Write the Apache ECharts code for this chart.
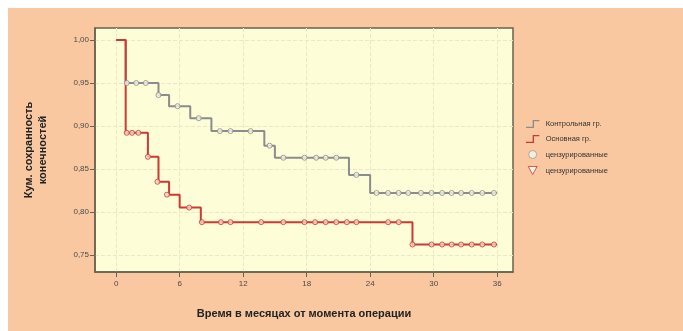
<!DOCTYPE html>
<html><head><meta charset="utf-8">
<script src="https://cdn.jsdelivr.net/npm/echarts@6/dist/echarts.min.js"></script>
<style>html,body{margin:0;padding:0;background:#fff}#c{width:683px;height:331px}</style>
</head><body><div id="c"></div>
<script>
// Kaplan–Meier steps: [time (months), cumulative survival]
const controlTimes = [0, 0.9, 4, 5, 7, 9, 14, 15, 22, 24, 36];
const controlSurv  = [1.0, 0.95, 0.936, 0.923, 0.909, 0.894, 0.877, 0.863, 0.843, 0.822, 0.822];
const mainTimes = [0, 0.9, 3, 4, 5, 6, 8, 28, 36];
const mainSurv  = [1.0, 0.892, 0.864, 0.835, 0.820, 0.805, 0.788, 0.762, 0.762];
// Censored observations
const controlCensTimes = [1.0,1.9,2.8,4.0,5.8,7.8,9.8,10.8,12.7,14.5,15.8,17.8,18.9,19.8,20.8,22.7,24.6,25.7,26.7,27.6,28.8,29.8,30.8,31.7,32.6,33.6,34.6,35.7];
const controlCensSurv  = [0.95,0.95,0.95,0.936,0.923,0.909,0.894,0.894,0.894,0.877,0.863,0.863,0.863,0.863,0.863,0.843,0.822,0.822,0.822,0.822,0.822,0.822,0.822,0.822,0.822,0.822,0.822,0.822];
const mainCensTimes = [1.0,1.5,2.1,3.0,3.9,4.8,6.9,8.1,9.9,10.8,13.7,15.8,17.8,18.8,19.8,20.8,21.8,22.7,25.7,26.7,28.0,29.8,30.8,31.7,32.6,33.6,34.6,35.7];
const mainCensSurv  = [0.892,0.892,0.892,0.864,0.835,0.820,0.805,0.788,0.788,0.788,0.788,0.788,0.788,0.788,0.788,0.788,0.788,0.788,0.788,0.788,0.762,0.762,0.762,0.762,0.762,0.762,0.762,0.762];
const xTicks = [0, 6, 12, 18, 24, 30, 36];
const yTicks = [0.75, 0.80, 0.85, 0.90, 0.95, 1.00];
const seriesNames = ['Контрольная гр.', 'Основная гр.', 'цензурированные', 'цензурированные '];
const xTitle = 'Время в месяцах от момента операции';
const yTitle = 'Кум. сохранность\nконечностей';

const zip = (a, b) => a.map((v, i) => [v, b[i]]);
const GRAY = '#8c8c8c', RED = '#cc3a33', AX = '#6a6250', TXT = '#4a4a4a';
const stepIcon = 'path://M0,10 L10,10 L10,0 L20,0 L20,2 L12,2 L12,12 L0,12 Z';

const chart = echarts.init(document.getElementById('c'), null, {renderer: 'canvas'});
chart.setOption({
  backgroundColor: '#fff',
  animation: false,
  graphic: [{type: 'rect', z: -10, shape: {x: 8, y: 8, width: 675, height: 323}, style: {fill: '#f9c8a0'}}],
  grid: {left: 95, top: 28, right: 170, bottom: 59, show: true, backgroundColor: '#fdfdd8', borderColor: AX, borderWidth: 1.5},
  xAxis: {
    type: 'value', min: -2, max: 37.5,
    name: xTitle, nameLocation: 'middle', nameGap: 36,
    nameTextStyle: {fontFamily: 'Liberation Sans', fontWeight: 'bold', fontSize: 11, color: '#222'},
    axisLine: {show: true, onZero: false, lineStyle: {color: AX, width: 1.5}},
    axisTick: {show: true, inside: false, length: 5, lineStyle: {color: AX}, customValues: xTicks},
    axisLabel: {color: TXT, fontSize: 8, fontFamily: 'Liberation Sans', margin: 8, customValues: xTicks},
    splitLine: {show: true, lineStyle: {color: '#ebe7c8', type: 'dashed', width: 1}}
  },
  yAxis: {
    type: 'value', min: 0.73, max: 1.014,
    name: yTitle, nameLocation: 'middle', nameGap: 45, nameRotate: 90,
    nameTextStyle: {fontFamily: 'Liberation Sans', fontWeight: 'bold', fontSize: 11, color: '#222', lineHeight: 14},
    axisLine: {show: true, onZero: false, lineStyle: {color: AX, width: 1.5}},
    axisTick: {show: true, inside: false, length: 5, lineStyle: {color: AX}, customValues: yTicks},
    axisLabel: {color: TXT, fontSize: 8, fontFamily: 'Liberation Sans', margin: 6, customValues: yTicks,
      formatter: v => v.toFixed(2).replace('.', ',')},
    splitLine: {show: true, lineStyle: {color: '#ebe7c8', type: 'dashed', width: 1}}
  },
  legend: {
    orient: 'vertical', left: 521, top: 115, itemGap: 7, itemWidth: 16, itemHeight: 8,
    textStyle: {fontSize: 7.5, color: '#333', fontFamily: 'Liberation Sans'},
    data: [
      {name: seriesNames[0], icon: stepIcon, itemStyle: {color: GRAY}},
      {name: seriesNames[1], icon: stepIcon, itemStyle: {color: RED}},
      {name: seriesNames[2], icon: 'circle', itemStyle: {color: '#f4f8e8', borderColor: '#9a9a9a', borderWidth: 1}},
      {name: seriesNames[3], icon: 'path://M0,0 L10,0 L5,9 Z', itemStyle: {color: '#fff', borderColor: RED, borderWidth: 1}}
    ]
  },
  series: [
    {name: seriesNames[0], type: 'line', step: 'end', data: zip(controlTimes, controlSurv), showSymbol: false,
      lineStyle: {color: GRAY, width: 2}, itemStyle: {color: GRAY}, z: 2},
    {name: seriesNames[1], type: 'line', step: 'end', data: zip(mainTimes, mainSurv), showSymbol: false,
      lineStyle: {color: RED, width: 2}, itemStyle: {color: RED}, z: 3},
    {name: seriesNames[2], type: 'scatter', data: zip(controlCensTimes, controlCensSurv), symbol: 'circle', symbolSize: 5,
      itemStyle: {color: '#f6f6e4', borderColor: '#8a8a8a', borderWidth: 1}, z: 4},
    {name: seriesNames[3], type: 'scatter', data: zip(mainCensTimes, mainCensSurv), symbol: 'circle', symbolSize: 5,
      itemStyle: {color: '#f2d8c8', borderColor: RED, borderWidth: 1}, z: 5}
  ]
});
</script></body></html>
